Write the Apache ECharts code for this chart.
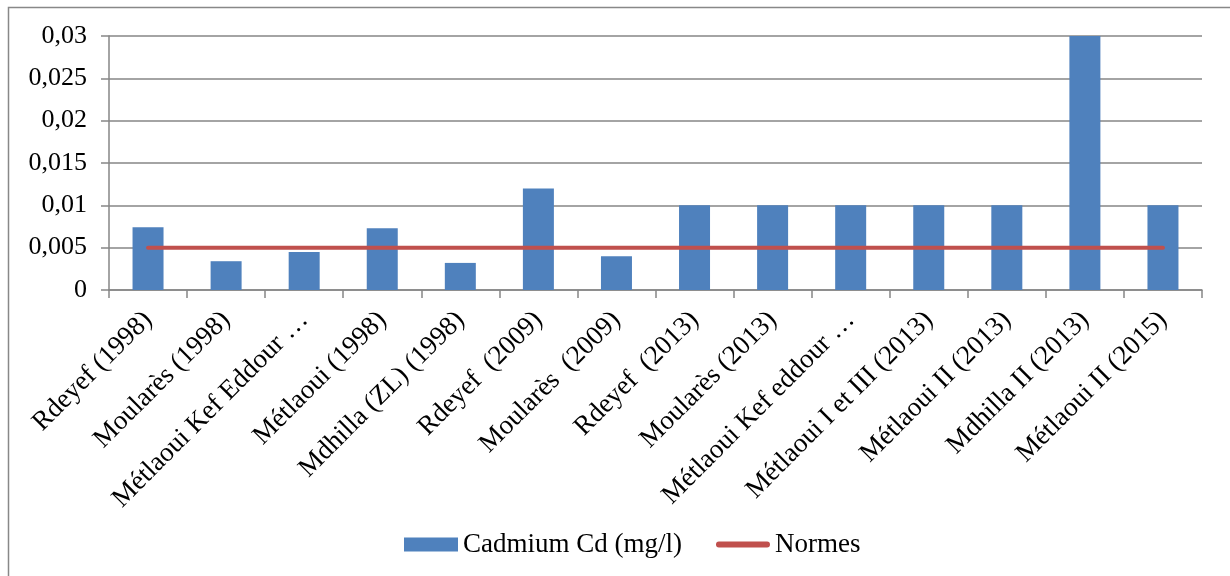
<!DOCTYPE html>
<html>
<head>
<meta charset="utf-8">
<script src="https://cdn.jsdelivr.net/npm/echarts@6/dist/echarts.min.js"></script>
<style>
html,body{margin:0;padding:0;background:#fff;}
#c{width:1230px;height:576px;}
</style>
</head>
<body>
<div id="c"></div>
<script>
const categories = [
  "Rdeyef (1998)", "Moularès (1998)", "Métlaoui Kef Eddour …", "Métlaoui (1998)",
  "Mdhilla (ZL) (1998)", "Rdeyef  (2009)", "Moularès  (2009)", "Rdeyef  (2013)",
  "Moularès (2013)", "Métlaoui Kef eddour …", "Métlaoui I et III (2013)",
  "Métlaoui II (2013)", "Mdhilla II (2013)", "Métlaoui II (2015)"
];
const cadmium = [0.0074, 0.0034, 0.0045, 0.0073, 0.0032, 0.012, 0.004, 0.01, 0.01, 0.01, 0.01, 0.01, 0.03, 0.01];
const normes = [0.005, 0.005, 0.005, 0.005, 0.005, 0.005, 0.005, 0.005, 0.005, 0.005, 0.005, 0.005, 0.005, 0.005];
const seriesNames = ["Cadmium Cd (mg/l)", "Normes"];

const FONT = "'Liberation Serif','Times New Roman',serif";
const chart = echarts.init(document.getElementById('c'), null, {renderer: 'canvas'});
chart.setOption({
  animation: false,
  backgroundColor: '#fff',
  textStyle: {fontFamily: FONT, color: '#000'},
  graphic: [{
    type: 'rect', shape: {x: 8.5, y: 7.5, width: 1300, height: 700},
    style: {fill: 'none', stroke: '#888', lineWidth: 1.5}, silent: true, z: -10
  }],
  grid: {left: 109, right: 28, top: 36, bottom: 286, containLabel: false},
  legend: {
    top: 526, left: 399, itemWidth: 54, itemHeight: 14, itemGap: 34,
    textStyle: {fontFamily: FONT, fontSize: 27, color: '#000'},
    data: [
      {name: seriesNames[0], icon: 'rect'},
      {name: seriesNames[1], icon: 'path://M3,0 H53 A3,3 0 0 1 53,6 H3 A3,3 0 0 1 3,0 Z'}
    ]
  },
  xAxis: {
    type: 'category', data: categories, boundaryGap: true,
    axisLine: {lineStyle: {color: '#868686', width: 1.5}},
    axisTick: {show: true, length: 8, lineStyle: {color: '#868686', width: 1.5}},
    axisLabel: {rotate: 45, interval: 0, fontFamily: FONT, fontSize: 27, color: '#000', margin: 26}
  },
  yAxis: {
    type: 'value', min: 0, max: 0.03, interval: 0.005,
    axisLine: {show: true, lineStyle: {color: '#868686', width: 1.5}},
    axisTick: {show: true, length: 8, lineStyle: {color: '#868686', width: 1.5}},
    splitLine: {lineStyle: {color: '#868686', width: 1.5}},
    axisLabel: {
      fontFamily: FONT, fontSize: 26, color: '#000', margin: 22,
      formatter: v => String(+v.toFixed(4)).replace('.', ',')
    }
  },
  series: [
    {
      name: seriesNames[0], type: 'bar', data: cadmium, barWidth: 31,
      itemStyle: {color: '#4F81BD'}
    },
    {
      name: seriesNames[1], type: 'line', data: normes, symbol: 'none',
      lineStyle: {color: '#C0504D', width: 4, cap: 'round'},
      itemStyle: {color: '#C0504D'}
    }
  ]
});
</script>
</body>
</html>
